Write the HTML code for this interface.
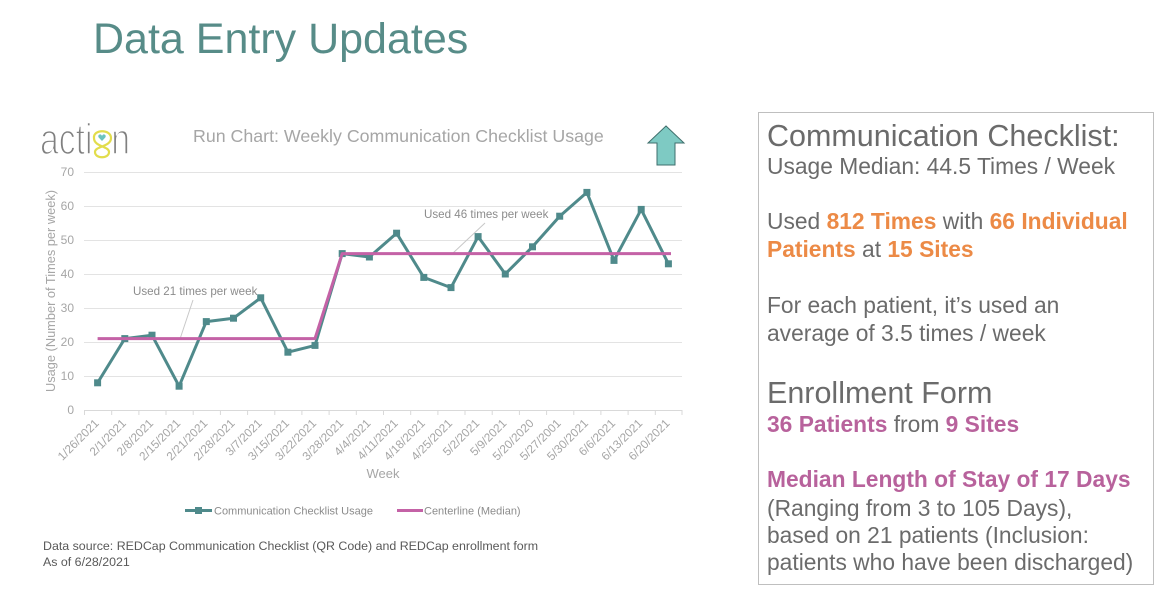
<!DOCTYPE html>
<html><head><meta charset="utf-8"><style>
html,body{margin:0;padding:0;background:#fff;}
svg{display:block;font-family:"Liberation Sans",Arial,sans-serif;}
</style></head><body>
<svg width="1159" height="596" viewBox="0 0 1159 596" xmlns="http://www.w3.org/2000/svg">
<rect width="1159" height="596" fill="#fff"/>
<!-- Title -->
<text x="93" y="53" font-size="43" fill="#578c88">Data Entry Updates</text>

<!-- Logo -->
<text x="40" y="154" font-size="44" fill="#808080" stroke="#fff" stroke-width="1.6" textLength="90" lengthAdjust="spacingAndGlyphs">acti<tspan fill="transparent" stroke="none">o</tspan>n</text>
<path d="M94,138 C93,129 111,129 111,138 C111,147 95,146 95,152 C95,159 109,159 109,152 C109,146 94,147 94,138 Z" fill="none" stroke="#e2dd4c" stroke-width="2.2"/>
<path d="M102,141 L98.8,137.6 C97.4,136 99,133.6 101,134.6 L102,135.8 L103,134.6 C105,133.6 106.6,136 105.2,137.6 Z" fill="#6cc3bd"/>

<!-- Chart title -->
<text x="193" y="142" font-size="17.8" fill="#a6a6a6">Run Chart: Weekly Communication Checklist Usage</text>

<!-- Arrow -->
<polygon points="666,126 648,143 657,143 657,165 675,165 675,143 684,143" fill="#7ecac3" stroke="#3f6f6c" stroke-width="1"/>

<!-- Gridlines -->
<g stroke="#e3e3e3" stroke-width="1">
<line x1="84" y1="172.5" x2="682" y2="172.5"/>
<line x1="84" y1="206.5" x2="682" y2="206.5"/>
<line x1="84" y1="240.5" x2="682" y2="240.5"/>
<line x1="84" y1="274.5" x2="682" y2="274.5"/>
<line x1="84" y1="308.5" x2="682" y2="308.5"/>
<line x1="84" y1="342.5" x2="682" y2="342.5"/>
<line x1="84" y1="376.5" x2="682" y2="376.5"/>
</g>
<line x1="84" y1="410.5" x2="682" y2="410.5" stroke="#d9d9d9" stroke-width="1"/>
<g stroke="#d9d9d9" stroke-width="1">
<line x1="84.5" y1="410" x2="84.5" y2="415"/><line x1="111.7" y1="410" x2="111.7" y2="415"/><line x1="138.9" y1="410" x2="138.9" y2="415"/><line x1="166" y1="410" x2="166" y2="415"/><line x1="193.2" y1="410" x2="193.2" y2="415"/><line x1="220.4" y1="410" x2="220.4" y2="415"/><line x1="247.6" y1="410" x2="247.6" y2="415"/><line x1="274.8" y1="410" x2="274.8" y2="415"/><line x1="301.9" y1="410" x2="301.9" y2="415"/><line x1="329.1" y1="410" x2="329.1" y2="415"/><line x1="356.3" y1="410" x2="356.3" y2="415"/><line x1="383.5" y1="410" x2="383.5" y2="415"/><line x1="410.7" y1="410" x2="410.7" y2="415"/><line x1="437.9" y1="410" x2="437.9" y2="415"/><line x1="465" y1="410" x2="465" y2="415"/><line x1="492.2" y1="410" x2="492.2" y2="415"/><line x1="519.4" y1="410" x2="519.4" y2="415"/><line x1="546.6" y1="410" x2="546.6" y2="415"/><line x1="573.8" y1="410" x2="573.8" y2="415"/><line x1="600.9" y1="410" x2="600.9" y2="415"/><line x1="628.1" y1="410" x2="628.1" y2="415"/><line x1="655.3" y1="410" x2="655.3" y2="415"/><line x1="682" y1="410" x2="682" y2="415"/>
</g>

<!-- Y tick labels -->
<g font-size="12" fill="#a6a6a6" text-anchor="end">
<text x="74" y="176">70</text><text x="74" y="210">60</text><text x="74" y="244">50</text><text x="74" y="278">40</text><text x="74" y="312">30</text><text x="74" y="346">20</text><text x="74" y="380">10</text><text x="74" y="414">0</text>
</g>
<text transform="translate(55,291) rotate(-90)" font-size="12.8" fill="#a6a6a6" text-anchor="middle">Usage (Number of Times per week)</text>

<!-- X labels -->
<g font-size="11.8" fill="#a6a6a6" text-anchor="end">
<text transform="translate(99.6,424) rotate(-45)">1/26/2021</text>
<text transform="translate(126.8,424) rotate(-45)">2/1/2021</text>
<text transform="translate(154,424) rotate(-45)">2/8/2021</text>
<text transform="translate(181.1,424) rotate(-45)">2/15/2021</text>
<text transform="translate(208.3,424) rotate(-45)">2/21/2021</text>
<text transform="translate(235.5,424) rotate(-45)">2/28/2021</text>
<text transform="translate(262.7,424) rotate(-45)">3/7/2021</text>
<text transform="translate(289.9,424) rotate(-45)">3/15/2021</text>
<text transform="translate(317,424) rotate(-45)">3/22/2021</text>
<text transform="translate(344.2,424) rotate(-45)">3/28/2021</text>
<text transform="translate(371.4,424) rotate(-45)">4/4/2021</text>
<text transform="translate(398.6,424) rotate(-45)">4/11/2021</text>
<text transform="translate(425.8,424) rotate(-45)">4/18/2021</text>
<text transform="translate(453,424) rotate(-45)">4/25/2021</text>
<text transform="translate(480.1,424) rotate(-45)">5/2/2021</text>
<text transform="translate(507.3,424) rotate(-45)">5/9/2021</text>
<text transform="translate(534.5,424) rotate(-45)">5/20/2020</text>
<text transform="translate(561.7,424) rotate(-45)">5/27/2001</text>
<text transform="translate(588.9,424) rotate(-45)">5/30/2021</text>
<text transform="translate(616,424) rotate(-45)">6/6/2021</text>
<text transform="translate(643.2,424) rotate(-45)">6/13/2021</text>
<text transform="translate(670.4,424) rotate(-45)">6/20/2021</text>
</g>
<text x="383" y="478" font-size="13" fill="#a6a6a6" text-anchor="middle">Week</text>

<!-- Annotations -->
<line x1="193" y1="300" x2="180" y2="339" stroke="#c8c8c8" stroke-width="1"/>
<text x="133" y="295" font-size="11.6" fill="#8c8c8c">Used 21 times per week</text>
<line x1="485" y1="223" x2="452" y2="254" stroke="#c8c8c8" stroke-width="1"/>
<text x="424" y="218" font-size="11.6" fill="#8c8c8c">Used 46 times per week</text>

<!-- Series -->
<polyline fill="none" stroke="#4f8a8b" stroke-width="3" stroke-linejoin="round" points="97.6,382.8 124.8,338.6 152,335.2 179.1,386.2 206.3,321.6 233.5,318.2 260.7,297.8 287.9,352.2 315,345.4 342.2,253.6 369.4,257 396.6,233.2 423.8,277.4 451,287.6 478.1,236.6 505.3,274 532.5,246.8 559.7,216.2 586.9,192.4 614,260.4 641.2,209.4 668.4,263.8"/>
<g fill="#4f8a8b">
<rect x="94.1" y="379.3" width="7" height="7"/><rect x="121.3" y="335.1" width="7" height="7"/><rect x="148.5" y="331.7" width="7" height="7"/><rect x="175.6" y="382.7" width="7" height="7"/><rect x="202.8" y="318.1" width="7" height="7"/><rect x="230" y="314.7" width="7" height="7"/><rect x="257.2" y="294.3" width="7" height="7"/><rect x="284.4" y="348.7" width="7" height="7"/><rect x="311.5" y="341.9" width="7" height="7"/><rect x="338.7" y="250.1" width="7" height="7"/><rect x="365.9" y="253.5" width="7" height="7"/><rect x="393.1" y="229.7" width="7" height="7"/><rect x="420.3" y="273.9" width="7" height="7"/><rect x="447.5" y="284.1" width="7" height="7"/><rect x="474.6" y="233.1" width="7" height="7"/><rect x="501.8" y="270.5" width="7" height="7"/><rect x="529" y="243.3" width="7" height="7"/><rect x="556.2" y="212.7" width="7" height="7"/><rect x="583.4" y="188.9" width="7" height="7"/><rect x="610.5" y="256.9" width="7" height="7"/><rect x="637.7" y="205.9" width="7" height="7"/><rect x="664.9" y="260.3" width="7" height="7"/>
</g>
<polyline fill="none" stroke="#c462a6" stroke-width="3" stroke-linejoin="round" points="97.6,338.6 315,338.6 342.2,253.6 671,253.6"/>

<!-- Legend -->
<line x1="185" y1="510.5" x2="212" y2="510.5" stroke="#4f8a8b" stroke-width="3"/>
<rect x="195" y="507" width="7" height="7" fill="#4f8a8b"/>
<text x="214" y="514.5" font-size="11" fill="#8c8c8c">Communication Checklist Usage</text>
<line x1="397" y1="510.5" x2="423" y2="510.5" stroke="#c462a6" stroke-width="3"/>
<text x="424" y="514.5" font-size="11" fill="#8c8c8c">Centerline (Median)</text>

<!-- Data source -->
<text x="43" y="550" font-size="12.4" fill="#595959">Data source: REDCap Communication Checklist (QR Code) and REDCap enrollment form</text>
<text x="43" y="566" font-size="12.4" fill="#595959">As of 6/28/2021</text>

<!-- Right box -->
<rect x="758.5" y="112.5" width="395" height="472" fill="none" stroke="#bfbfbf" stroke-width="1"/>
<g fill="#6b6b6b">
<text x="767" y="146" font-size="30.5">Communication Checklist:</text>
<text x="767" y="174" font-size="22.8">Usage Median: 44.5 Times / Week</text>
<text x="767" y="229" font-size="22.8">Used <tspan fill="#ec8a46" font-weight="bold">812 Times</tspan> with <tspan fill="#ec8a46" font-weight="bold">66 Individual</tspan></text>
<text x="767" y="257" font-size="22.8"><tspan fill="#ec8a46" font-weight="bold">Patients</tspan> at <tspan fill="#ec8a46" font-weight="bold">15 Sites</tspan></text>
<text x="767" y="313" font-size="22.8">For each patient, it’s used an</text>
<text x="767" y="341" font-size="22.8">average of 3.5 times / week</text>
<text x="767" y="403" font-size="30.5">Enrollment Form</text>
<text x="767" y="432" font-size="22.8"><tspan fill="#b8629c" font-weight="bold">36 Patients</tspan> from <tspan fill="#b8629c" font-weight="bold">9 Sites</tspan></text>
<text x="767" y="487" font-size="22.8" fill="#b8629c" font-weight="bold">Median Length of Stay of 17 Days</text>
<text x="767" y="516" font-size="22.8">(Ranging from 3 to 105 Days),</text>
<text x="767" y="543" font-size="22.8">based on 21 patients (Inclusion:</text>
<text x="767" y="570" font-size="22.8">patients who have been discharged)</text>
</g>
</svg>
</body></html>
